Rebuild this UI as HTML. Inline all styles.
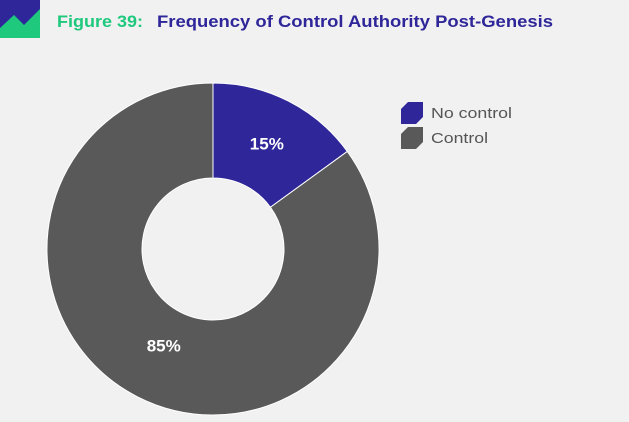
<!DOCTYPE html>
<html><head><meta charset="utf-8"><style>
body{margin:0;width:629px;height:417px;background:#f1f1f1;overflow:hidden;font-family:"Liberation Sans",sans-serif}
</style></head><body>
<svg width="629" height="417" viewBox="0 0 629 417">
<g>
<rect x="0" y="0" width="40" height="38" fill="#2e2699"/>
<polygon points="0,28 14,15 24,25 40,9 40,38 0,38" fill="#1ec97e"/>
</g>
<text x="57" y="27" font-size="17" font-weight="bold" fill="#1ec97e" textLength="86" lengthAdjust="spacingAndGlyphs">Figure 39:</text>
<text x="157" y="27" font-size="17" font-weight="bold" fill="#2e2699" textLength="396" lengthAdjust="spacingAndGlyphs">Frequency of Control Authority Post-Genesis</text>
<g id="pie"></g>
<g>
<g>
<polygon points="408,102 423,102 423,117 416,124 401,124 401,109" fill="#2e2699"/>
<text x="431" y="118" font-size="15" fill="#555" textLength="81" lengthAdjust="spacingAndGlyphs">No control</text></g>
<g>
<polygon points="408,127 423,127 423,142 416,149 401,149 401,134" fill="#595959"/>
<text x="431" y="143" font-size="15" fill="#555" textLength="57" lengthAdjust="spacingAndGlyphs">Control</text></g>
</g>
</svg>
<script>
const categories=["No control","Control"];
const values=[15,85];
const colors=["#2e2699","#595959"];
const cx=213,cy=249,R=166,r=71;
const g=document.getElementById('pie');
const ns="http://www.w3.org/2000/svg";
const total=values.reduce((a,b)=>a+b,0);
let a0=0;
values.forEach((v,i)=>{
  const a1=a0+v/total*2*Math.PI;
  const p=(a,rad)=>[cx+rad*Math.sin(a),cy-rad*Math.cos(a)];
  const [x0,y0]=p(a0,R),[x1,y1]=p(a1,R),[x2,y2]=p(a1,r),[x3,y3]=p(a0,r);
  const lg=(a1-a0)>Math.PI?1:0;
  const path=document.createElementNS(ns,'path');
  path.setAttribute('d',`M${x0},${y0}A${R},${R} 0 ${lg} 1 ${x1},${y1}L${x2},${y2}A${r},${r} 0 ${lg} 0 ${x3},${y3}Z`);
  path.setAttribute('fill',colors[i]);
  path.setAttribute('stroke','#fff');
  path.setAttribute('stroke-width','1');
  
  
  g.appendChild(path);
  const am=(a0+a1)/2,[lx,ly]=p(am,(R+r)/2+(i===0?0:-10));
  const t=document.createElementNS(ns,'text');
  t.setAttribute('x',lx);t.setAttribute('y',ly+6);
  t.setAttribute('text-anchor','middle');
  t.setAttribute('font-size','17');t.setAttribute('font-weight','bold');t.setAttribute('fill','#fff');
  t.textContent=v+'%';
  
  
  g.appendChild(t);
  a0=a1;
});
</script>
</body></html>
